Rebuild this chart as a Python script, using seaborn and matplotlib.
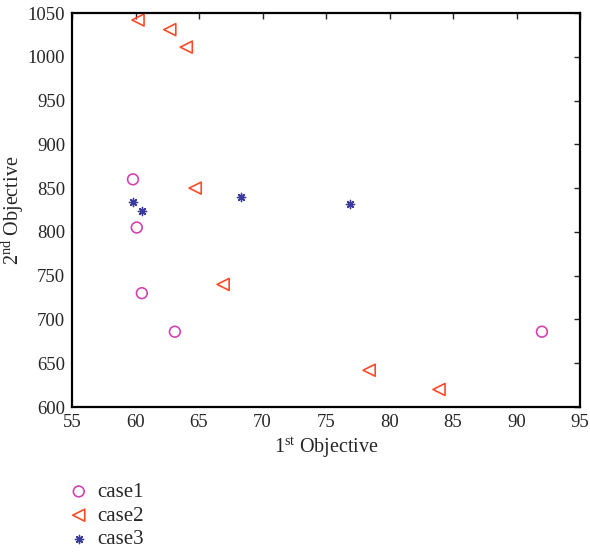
import matplotlib
matplotlib.use("Agg")
import matplotlib.pyplot as plt
import seaborn as sns
import pandas as pd

case1_x = [59.8, 60.1, 60.5, 63.1, 92.0]
case1_y = [860, 805, 730, 686, 686]
case2_x = [60.2, 62.7, 64.0, 64.7, 66.9, 78.4, 83.9]
case2_y = [1042, 1031, 1011, 850, 740, 642, 620]
case3_x = [59.8, 60.5, 68.3, 76.9]
case3_y = [834, 824, 840, 832]

x_ticks = [55, 60, 65, 70, 75, 80, 85, 90, 95]
y_ticks = [600, 650, 700, 750, 800, 850, 900, 950, 1000, 1050]

sns.set_style("white")
plt.rcParams['font.family'] = ['Liberation Serif', 'DejaVu Serif']
plt.rcParams['mathtext.default'] = 'regular'

fig = plt.figure(figsize=(5.9, 5.52), dpi=100)
ax = fig.add_axes([72/590, 1-407/552, (580-72)/590, (407-13)/552])

df1 = pd.DataFrame({"x": case1_x, "y": case1_y})
df2 = pd.DataFrame({"x": case2_x, "y": case2_y})
df3 = pd.DataFrame({"x": case3_x, "y": case3_y})

sns.scatterplot(data=df1, x="x", y="y", ax=ax, marker="o", s=60,
                facecolors="none", edgecolor="#D045B0", linewidth=1.2, label="case1")
sns.scatterplot(data=df2, x="x", y="y", ax=ax, marker="<", s=75,
                facecolors="none", edgecolor="#FF4A28", linewidth=1.2, label="case2")
sns.scatterplot(data=df3, x="x", y="y", ax=ax, marker=(8, 2, 0), s=35,
                color="#3B3B9E", linewidth=1.0, label="case3")

ax.set_xlim(55, 95)
ax.set_ylim(600, 1050)
ax.set_xticks(x_ticks)
ax.set_yticks(y_ticks)
ax.tick_params(direction="in", top=True, right=True, length=4, width=1,
               labelsize=13.5, pad=5)
for sp in ax.spines.values():
    sp.set_visible(True)
    sp.set_linewidth(1.6)
    sp.set_color("black")

ax.set_xlabel("1$^{st}$ Objective", fontsize=14.5, labelpad=3)
ax.set_ylabel("2$^{nd}$ Objective", fontsize=14.5, labelpad=1)

h, l = ax.get_legend_handles_labels()
ax.legend_.remove()
fig.legend(h, l, loc="upper left", bbox_to_anchor=(60/590, 1-474/552),
           frameon=False, fontsize=15, handletextpad=0.4, labelspacing=0.2,
           borderaxespad=0, handlelength=1.0)

fig.savefig("out.png", dpi=100)
